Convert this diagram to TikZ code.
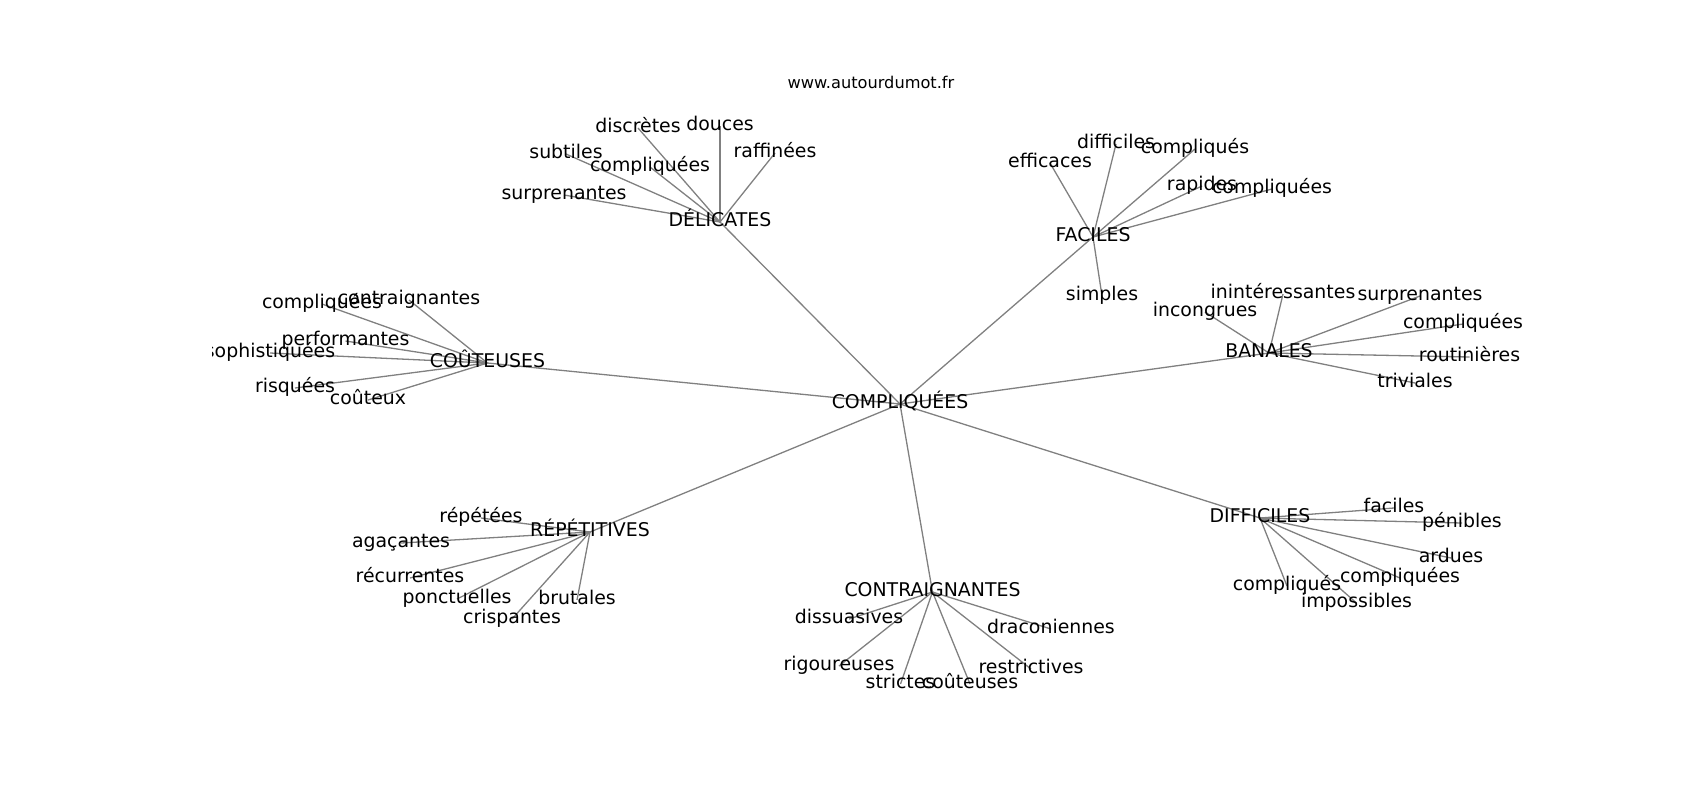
\documentclass[tikz,border=0pt]{standalone}
\usepackage{fontspec}
\setmainfont{DejaVu Sans}
\usetikzlibrary{backgrounds}

\begin{document}
\begin{tikzpicture}[x=0.5pt,y=-0.5pt,
    word/.style={inner sep=0pt,text height=7.18pt,text depth=2.27pt,font=\fontsize{9.45}{11}\selectfont},
    link/.style={gray,line width=0.65pt}]
    \useasboundingbox (0,0) rectangle (1700,800);
    \node[anchor=base,font=\fontsize{8.1}{10}\selectfont] (site) at (871,88.5) {www.autourdumot.fr};
    \begin{scope}
        \clip (212.5,96) rectangle (1530,712);
        % centre and the seven groups
        \node[word] (cmp) at (900,404) {COMPLIQUÉES};
        \node[word] (del) at (720,222) {DÉLICATES};
        \node[word] (fac) at (1093,237) {FACILES};
        \node[word] (cou) at (487.5,363) {COÛTEUSES};
        \node[word] (ban) at (1269,353) {BANALES};
        \node[word] (rep) at (590,532) {RÉPÉTITIVES};
        \node[word] (con) at (932.5,592) {CONTRAIGNANTES};
        \node[word] (dif) at (1260,518) {DIFFICILES};
        % words of each group
        \foreach \n/\x/\y/\t in {del1/638/128/discrètes, del2/720/126/douces, del3/566/154/subtiles,
            del4/650/167/compliquées, del5/775/153/raffinées, del6/564/195/surprenantes,
            fac1/1116/144/difficiles, fac2/1195/149/compliqués, fac3/1050/163/efficaces,
            fac4/1202/186/rapides, fac5/1272/189/compliquées, fac6/1102/296/simples,
            cou1/322/304/compliquées, cou2/409/300/contraignantes, cou3/345.5/341/performantes,
            cou4/270/353/sophistiquées, cou5/295/388/risquées, cou6/368/400/coûteux,
            ban1/1283/294/inintéressantes, ban2/1420/296/surprenantes, ban3/1205/312/incongrues,
            ban4/1463/324/compliquées, ban5/1469.5/357/routinières, ban6/1415/383/triviales,
            rep1/481/518/répétées, rep2/401/543/agaçantes, rep3/410/578/récurrentes,
            rep4/457/599/ponctuelles, rep5/577/600/brutales, rep6/512/619/crispantes,
            con1/849/619/dissuasives, con2/1051/629/draconiennes, con3/839/666/rigoureuses,
            con4/1031/669/restrictives, con5/900.5/684/strictes, con6/970/684/coûteuses,
            dif1/1394/508/faciles, dif2/1462/523/pénibles, dif3/1451/558/ardues,
            dif4/1400/578/compliquées, dif5/1287/586/compliqués, dif6/1356.5/603/impossibles}
            \node[word] (\n) at (\x,\y) {\t};
        \begin{scope}[on background layer]
            \foreach \h in {del,fac,cou,ban,rep,con,dif} {
                \draw[link] (cmp.center) -- (\h.center);
                \foreach \i in {1,...,6}
                    \draw[link] (\h.center) -- (\h\i.center);
            }
        \end{scope}
    \end{scope}
\end{tikzpicture}
\end{document}
